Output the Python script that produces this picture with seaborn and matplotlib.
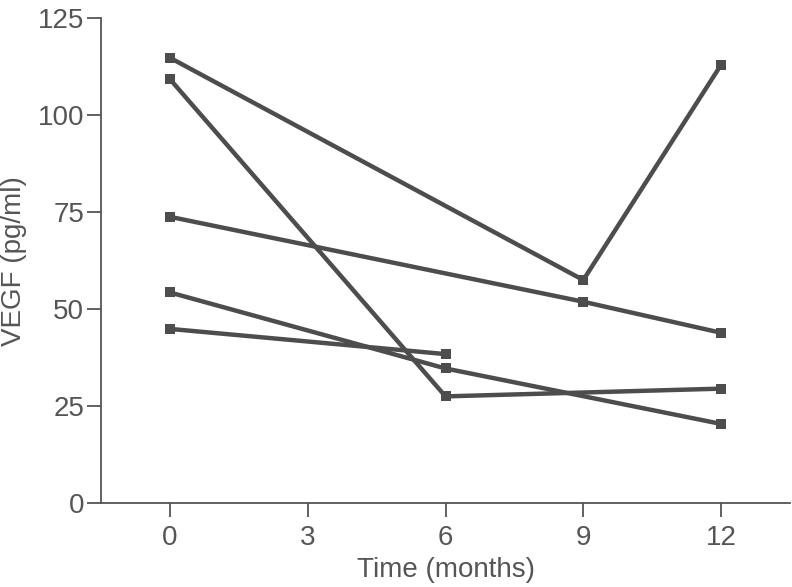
import pandas as pd
import seaborn as sns
import matplotlib.pyplot as plt

# one list per patient
times_a = [0, 9, 12]
vegf_a = [114.8, 57.5, 113.0]
times_b = [0, 6, 12]
vegf_b = [109.3, 27.5, 29.5]
times_c = [0, 9, 12]
vegf_c = [73.8, 51.9, 43.9]
times_d = [0, 6, 12]
vegf_d = [54.3, 34.7, 20.4]
times_e = [0, 6]
vegf_e = [44.9, 38.4]

x_ticks = [0, 3, 6, 9, 12]
y_ticks = [0, 25, 50, 75, 100, 125]

rows = []
for pid, (t, v) in enumerate([(times_a, vegf_a), (times_b, vegf_b), (times_c, vegf_c),
                              (times_d, vegf_d), (times_e, vegf_e)]):
    for ti, vi in zip(t, v):
        rows.append({"patient": pid, "time": ti, "vegf": vi})
df = pd.DataFrame(rows)

sns.set_style("ticks")
plt.rcParams["font.family"] = ["Liberation Sans", "DejaVu Sans"]

grey = "#555555"
line_col = "#4d4d4d"

fig = plt.figure(figsize=(7.92, 5.87), dpi=100)
ax = fig.add_axes([0.1275, 0.143, 0.87, 0.826])

sns.lineplot(data=df, x="time", y="vegf", units="patient", estimator=None,
             color=line_col, linewidth=3.2, marker="s", markersize=6.5,
             markeredgewidth=0, sort=False, ax=ax)

ax.set_xlim(-1.5, 13.5)
ax.set_ylim(0, 125)
ax.set_xticks(x_ticks)
ax.set_yticks(y_ticks)
ax.set_xlabel("Time (months)", fontsize=20, color=grey, labelpad=4)
ax.set_ylabel("VEGF (pg/ml)", fontsize=20, color=grey, labelpad=8)
ax.tick_params(axis="both", labelsize=20, colors=grey, length=10, width=1.3,
               direction="out")
ax.tick_params(axis="x", pad=6)
ax.tick_params(axis="y", pad=2)
for side in ["left", "bottom"]:
    ax.spines[side].set_color(grey)
    ax.spines[side].set_linewidth(1.3)
sns.despine(ax=ax)

fig.savefig("out.png", dpi=100)
